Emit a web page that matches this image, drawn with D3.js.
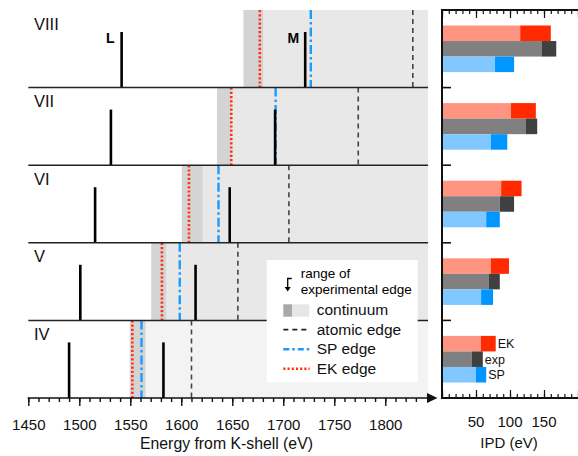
<!DOCTYPE html>
<html>
<head>
<meta charset="utf-8">
<script src="https://cdn.jsdelivr.net/npm/d3@7"></script>
<style>
  body { margin: 0; background: #fff; }
  svg { display: block; font-family: "Liberation Sans", Arial, Helvetica, sans-serif; }
</style>
</head>
<body>
<div id="chart"></div>
<script>
// charge states, top to bottom
const rows = ["VIII", "VII", "VI", "V", "IV"];

// line positions (eV from K-shell)
const lineL = [1541.5, 1531, 1515.5, 1501, 1490];
const lineM = [1721.5, 1692, 1647.5, 1614, 1582.5];
const ekEdge = [1677, 1649, 1607.5, 1581, 1552];
const spEdge = [1727, 1692.5, 1636.5, 1598.5, 1561];
const atomicEdge = [1827, 1773.5, 1705.5, 1655.5, 1610];
// range of experimental edge
const expLo = [1661, 1635, 1600.5, 1570.5, 1549.5];
const expHi = [1680.5, 1648.5, 1621, 1585.5, 1565];

// IPD bars: [light end, dark end] (eV)
const ipdEK  = [[115, 160], [101.5, 138], [87, 117], [72, 98.5], [57, 79]];
const ipdExp = [[147, 168], [123.5, 140], [85, 106], [69, 85], [44, 60]];
const ipdSP  = [[78, 106], [72, 96], [65, 85], [57.5, 75], [50, 65]];

const energyTicks = [1450, 1500, 1550, 1600, 1650, 1700, 1750, 1800];
const ipdTicks = [50, 100, 150];

const W = 578, H = 456;
const svg = d3.select("#chart").append("svg").attr("width", W).attr("height", H);

const x = d3.scaleLinear().domain([1450, 1842]).range([28.3, 428.1]);
const y = d3.scaleBand().domain(rows).range([10, 398]);
const xi = d3.scaleLinear().domain([0, 200]).range([442, 578]);
const xMax = x.domain()[1];

const EK_DASH = "2.2,2", SP_DASH = "9,3,2.5,3", AT_DASH = "5,4";

// ---------- main panel ----------
const main = svg.append("g");

// continuum shading
main.selectAll("rect.cont").data(rows).join("rect")
    .attr("x", (d, i) => x(expHi[i]))
    .attr("width", (d, i) => x(xMax) - x(expHi[i]))
    .attr("y", d => y(d)).attr("height", y.bandwidth())
    .attr("fill", d => d === "IV" ? "#f3f3f3" : "#e8e8e8");

// experimental edge range
main.selectAll("rect.exp").data(rows).join("rect")
    .attr("x", (d, i) => x(expLo[i]))
    .attr("width", (d, i) => x(expHi[i]) - x(expLo[i]))
    .attr("y", d => y(d)).attr("height", y.bandwidth())
    .attr("fill", "#d4d4d4");

function edge(values, stroke, dash, w) {
  main.append("g").selectAll("line").data(rows).join("line")
      .attr("x1", (d, i) => x(values[i])).attr("x2", (d, i) => x(values[i]))
      .attr("y1", d => y(d)).attr("y2", d => y(d) + y.bandwidth())
      .attr("stroke", stroke).attr("stroke-width", w)
      .attr("stroke-dasharray", dash);
}
edge(atomicEdge, "#444", AT_DASH, 1.6);
edge(ekEdge, "#ff3214", EK_DASH, 2.6);
edge(spEdge, "#1a9bff", SP_DASH, 2.4);

// emission lines
function lines(values) {
  main.append("g").selectAll("line").data(rows).join("line")
      .attr("x1", (d, i) => x(values[i])).attr("x2", (d, i) => x(values[i]))
      .attr("y1", d => y(d) + 22).attr("y2", d => y(d) + y.bandwidth())
      .attr("stroke", "#000").attr("stroke-width", 2.6);
}
lines(lineL);
lines(lineM);

// row separators
main.selectAll("line.sep").data(rows.slice(1)).join("line")
    .attr("x1", x(1450)).attr("x2", x(xMax))
    .attr("y1", d => y(d)).attr("y2", d => y(d))
    .attr("stroke", "#222").attr("stroke-width", 1.5);

// row labels
main.selectAll("text.row").data(rows).join("text")
    .attr("x", 34).attr("y", d => y(d) + 19.5)
    .attr("font-size", 16.5).attr("fill", "#111")
    .text(d => d);

main.append("text").attr("x", x(lineL[0]) - 7).attr("y", y("VIII") + 33)
    .attr("text-anchor", "end").attr("font-size", 14).attr("font-weight", "bold").text("L");
main.append("text").attr("x", x(lineM[0]) - 6).attr("y", y("VIII") + 33)
    .attr("text-anchor", "end").attr("font-size", 14).attr("font-weight", "bold").text("M");

// x axis
const axMinor = d3.axisBottom(x).tickValues(d3.range(1450, 1831, 10)).tickSize(4).tickFormat("");
const axMajor = d3.axisBottom(x).tickValues(energyTicks).tickSize(8).tickPadding(13).tickFormat(d3.format("d"));
[axMinor, axMajor].forEach(a => {
  const g = svg.append("g").attr("transform", "translate(0,398)").call(a);
  g.select(".domain").remove();
  g.selectAll("line").attr("stroke", "#111").attr("stroke-width", 1.4);
  g.selectAll("text").attr("font-size", 15).attr("fill", "#111").attr("font-family", null);
});
svg.append("line").attr("x1", x(1450) - 0.7).attr("x2", 428).attr("y1", 398).attr("y2", 398)
    .attr("stroke", "#111").attr("stroke-width", 1.6);
svg.append("path").attr("d", "M427,393L437.5,398L427,403Z").attr("fill", "#111");
svg.append("text").attr("x", 226.5).attr("y", 449).attr("text-anchor", "middle")
    .attr("font-size", 15.8).attr("fill", "#111").text("Energy from K-shell (eV)");

// legend
const lg = svg.append("g").attr("transform", "translate(266.7,260)");
lg.append("rect").attr("width", 151).attr("height", 122).attr("fill", "#fff");
lg.append("text").attr("x", 34).attr("y", 18).attr("font-size", 13.5).text("range of");
lg.append("text").attr("x", 34).attr("y", 33.5).attr("font-size", 13.5).text("experimental edge");
lg.append("path").attr("d", "M25,18.5H21V28").attr("fill", "none").attr("stroke", "#000").attr("stroke-width", 1.3);
lg.append("path").attr("d", "M18,27L21,31.5L24,27Z").attr("fill", "#000");
lg.append("rect").attr("x", 16.6).attr("y", 44.3).attr("width", 9).attr("height", 12.4).attr("fill", "#a9a9a9");
lg.append("rect").attr("x", 25.6).attr("y", 44.3).attr("width", 17).attr("height", 12.4).attr("fill", "#e6e6e6");
const items = [
  { label: "continuum" },
  { label: "atomic edge", stroke: "#222", dash: AT_DASH, w: 1.6 },
  { label: "SP edge", stroke: "#1a9bff", dash: "6,3,2.5,3", w: 2.4 },
  { label: "EK edge", stroke: "#ff3214", dash: EK_DASH, w: 2.6 }
];
items.forEach((it, i) => {
  const yy = 55 + i * 19.6;
  lg.append("text").attr("x", 50).attr("y", yy).attr("font-size", 15.5).attr("fill", "#111").text(it.label);
  if (it.stroke) {
    lg.append("line").attr("x1", 16.6).attr("x2", 43).attr("y1", yy - 5).attr("y2", yy - 5)
        .attr("stroke", it.stroke).attr("stroke-width", it.w).attr("stroke-dasharray", it.dash);
  }
});

// ---------- IPD panel ----------
const ipd = svg.append("g");
const sub = d3.scaleBand().domain(["EK", "exp", "SP"]).range([-23.3, 23.3]);
const series = [
  { key: "EK",  vals: ipdEK,  light: "#ff9580", dark: "#ff2a00" },
  { key: "exp", vals: ipdExp, light: "#808080", dark: "#404040" },
  { key: "SP",  vals: ipdSP,  light: "#80c8ff", dark: "#0096ff" }
];
series.forEach(s => {
  const yc = (d) => y(d) + y.bandwidth() / 2 + sub(s.key);
  ipd.append("g").selectAll("rect").data(rows).join("rect")
      .attr("x", xi(0)).attr("width", (d, i) => xi(s.vals[i][0]) - xi(0))
      .attr("y", yc).attr("height", sub.bandwidth()).attr("fill", s.light);
  ipd.append("g").selectAll("rect").data(rows).join("rect")
      .attr("x", (d, i) => xi(s.vals[i][0]))
      .attr("width", (d, i) => xi(s.vals[i][1]) - xi(s.vals[i][0]))
      .attr("y", yc).attr("height", sub.bandwidth()).attr("fill", s.dark);
  ipd.append("text")
      .attr("x", xi(s.vals[4][1]) + 2)
      .attr("y", yc("IV") + sub.bandwidth() / 2 + 4.5)
      .attr("font-size", 12.5).attr("fill", "#111").text(s.key);
});

// IPD axes
function ipdAxis(axisFn, yPos) {
  const minor = axisFn(xi).tickValues(d3.range(0, 201, 10)).tickSize(4).tickFormat("");
  const major = axisFn(xi).tickValues([0, 50, 100, 150, 200]).tickSize(8).tickFormat("");
  [minor, major].forEach(a => {
    const g = svg.append("g").attr("transform", `translate(0,${yPos})`).call(a);
    g.select(".domain").remove();
    g.selectAll("line").attr("stroke", "#111").attr("stroke-width", 1.2);
  });
}
ipdAxis(d3.axisBottom, 10);
ipdAxis(d3.axisTop, 398);
svg.append("g").selectAll("text").data(ipdTicks).join("text")
    .attr("x", d => xi(d)).attr("y", 427).attr("text-anchor", "middle")
    .attr("font-size", 15).attr("fill", "#111").text(d => d);
svg.append("text").attr("x", 509).attr("y", 448).attr("text-anchor", "middle")
    .attr("font-size", 15).attr("fill", "#111").text("IPD (eV)");

// frame
svg.append("path").attr("d", `M${W},10H442V398H${W}`).attr("fill", "none")
    .attr("stroke", "#111").attr("stroke-width", 2);
// row ticks on the left of IPD panel
svg.append("g").selectAll("line").data(rows.slice(1)).join("line")
    .attr("x1", 442).attr("x2", 451).attr("y1", d => y(d)).attr("y2", d => y(d))
    .attr("stroke", "#111").attr("stroke-width", 1.6);
</script>
</body>
</html>
